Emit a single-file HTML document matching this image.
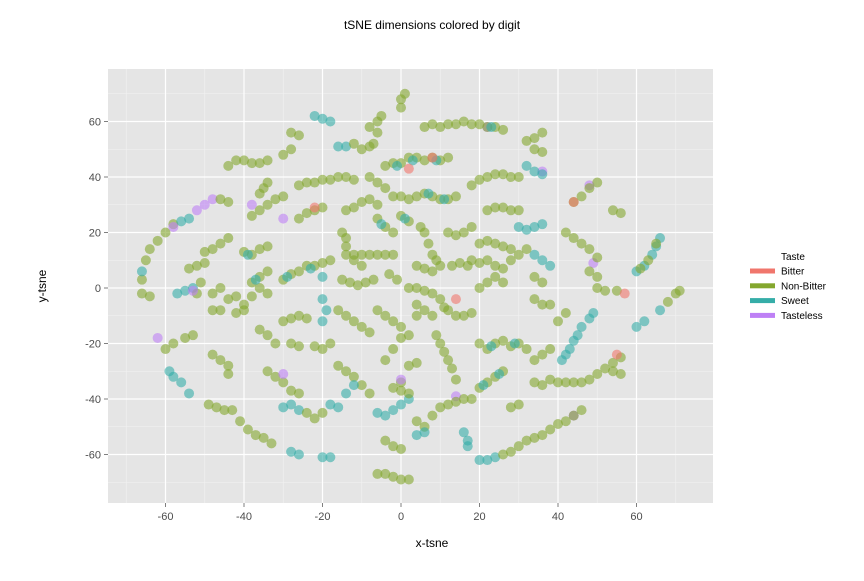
<!DOCTYPE html>
<html><head><meta charset="utf-8"><style>
body{margin:0;background:#fff;font-family:"Liberation Sans","DejaVu Sans",sans-serif;}
svg text{font-family:"Liberation Sans","DejaVu Sans",sans-serif;}
</style></head><body>
<svg id="chart" width="864" height="576">
<text x="432" y="29" text-anchor="middle" font-size="12">tSNE dimensions colored by digit</text>
<rect x="108" y="69" width="605" height="434" fill="#E5E5E5"/>
<g id="grid"></g><g id="axes"></g><g id="points"></g>
<text x="432" y="547" text-anchor="middle" font-size="12">x-tsne</text>
<text x="46" y="286" text-anchor="middle" font-size="12" transform="rotate(-90 46 286)">y-tsne</text>
<g>
<text x="781" y="260" font-size="10">Taste</text>
<g id="legend"></g>
</g>
</svg>
<script>
const classNames = ["Bitter","Non-Bitter","Sweet","Tasteless"];
const classColors = ["#F0766C","#84A72E","#35ADA8","#BE80F5"];
const xTicks = [-60,-40,-20,0,20,40,60];
const yTicks = [-60,-40,-20,0,20,40,60];
const pointGroups = [
["N","-66,3 -65,10 -64,14 -62,17 -60,20 -58,23 -66,-2 -64,-3 -60,-22 -58,-20 -55,-18 -53,-17"],
["S","-66,6 -56,24 -54,25 -59,-30 -58,-32 -56,-34 -54,-38 -57,-2 -55,-1 -53,0"],
["N","-51,2 -54,7 -52,8 -50,9 -52,-2 -48,-2 -46,0 -44,-4 -42,-3 -50,13 -48,14 -46,16 -44,18"],
["T","-52,28 -50,30 -48,32 -58,22 -53,-1 -62,-18"],
["N","-46,32 -44,31 -44,44 -42,46 -40,46 -38,45 -36,45 -34,46 -48,-8 -46,-8 -42,-9 -40,-8"],
["N","-48,-24 -46,-26 -44,-28 -44,-31 -49,-42 -47,-43 -45,-44 -43,-44 -41,-48 -39,-51 -37,-53 -35,-54 -33,-56"],
["S","-28,-59 -26,-60 -20,-61 -18,-61 -30,-43 -28,-42 -26,-44"],
["N","-24,-45 -22,-47 -20,-45 -34,-30 -32,-32 -30,-34 -28,-37 -26,-38 -36,-15 -34,-17 -32,-20"],
["N","-28,-20 -26,-21 -22,-21 -20,-22 -18,-20 -30,-12 -28,-11 -26,-10 -24,-11 -40,-6 -38,-3 -36,0 -34,-2"],
["N","-38,2 -36,4 -34,6 -30,3 -28,5 -26,6 -24,8 -22,8 -20,9 -18,10 -40,13 -38,12 -36,14 -34,15"],
["S","-37,3 -29,4 -23,7 -39,12"],
["N","-38,26 -36,28 -34,30 -32,32 -30,33 -30,48 -28,50 -28,56 -26,55 -36,34 -35,36 -34,38"],
["N","-26,37 -24,38 -22,38 -20,39 -18,39 -16,40 -14,40 -12,39 -26,25 -24,27 -22,28 -20,29"],
["S","-20,4 -20,-4 -19,-8 -20,-12 -22,62 -20,61 -18,60 -16,51 -14,51"],
["N","-12,52 -10,50 -8,51 -14,28 -12,29 -10,31 -8,32 -6,30 -15,20 -14,18 -14,15 -14,12 -12,10 -10,8"],
["N","-12,12 -10,12 -8,12 -6,12 -4,12 -2,12 -15,3 -13,2 -11,1 -9,2 -7,3"],
["N","-16,-8 -14,-10 -12,-12 -10,-14 -8,-16 -16,-28 -14,-30 -12,-32 -10,-35 -8,-38"],
["S","-18,-42 -16,-43 -14,-38 -12,-35 -6,-45 -4,-46 -2,-44 0,-42 2,-40"],
["N","-4,-55 -2,-57 0,-58 -6,-67 -4,-67 -2,-68 0,-69 2,-69"],
["N","-6,-8 -4,-10 -2,-12 0,-14 2,-17 4,-10 -4,-26 -2,-22 0,-18 2,-28 4,-27 0,-34 -2,-36 0,-37 2,-38"],
["T","0,-33 -30,-31 -38,30 -30,25 14,-39 44,-46 36,42 48,37 49,9 22,58"],
["N","-6,25 -4,22 -2,20 0,26 2,24 -4,44 -2,45 0,45 2,47 4,47"],
["S","-5,23 1,25 -1,44 3,46"],
["N","-8,58 -6,60 -5,62 -6,56 -7,52 0,65 0,68 1,70 -8,40 -6,38 -4,36 -2,33 0,33 2,32 4,33"],
["N","-3,5 -1,3 2,0 4,-6 6,-8 8,-10 6,58 8,59 10,58 12,59 14,59 16,60 18,59 20,59"],
["N","22,58 24,58 26,57 6,34 8,33 10,32 12,32 14,33 6,46 8,47 10,46 12,47"],
["S","23,58 7,34 11,32 9,46"],
["N","5,22 6,20 7,16 8,12 9,10 4,8 6,7 8,6 10,8 4,0 6,-1 8,-2 10,-4"],
["N","12,20 14,19 16,20 18,22 13,8 15,9 17,8 18,10 11,-7 12,-8 14,-10 16,-10 18,-9"],
["N","9,-17 10,-20 11,-23 12,-26 13,-29 14,-33 4,-48 6,-50 8,-46 10,-43 12,-42 14,-41 16,-40 18,-40"],
["S","4,-53 6,-52 17,-55 17,-57 16,-52 20,-62 22,-62 24,-61"],
["N","26,-60 28,-59 30,-57 32,-55 34,-54 36,-53 38,-51 40,-49 42,-48 44,-46 46,-44"],
["N","20,-36 22,-34 24,-32 26,-30 20,-20 22,-22 24,-20 26,-19 28,-21 30,-20 32,-22"],
["S","21,-35 25,-31 23,-21 29,-20"],
["N","28,-43 30,-42 34,-34 36,-35 38,-33 40,-34 42,-34 44,-34 46,-34 48,-33 50,-31 52,-29 54,-27 56,-25"],
["S","41,-26 42,-24 43,-22 44,-19 45,-17 46,-14 48,-11 49,-9"],
["N","40,-12 42,-9 38,-6 36,-6 20,0 22,2 24,4 26,2 20,9 22,10 24,8 26,7"],
["N","20,16 22,17 24,16 26,15 28,14 22,28 24,29 26,29 28,28 30,28"],
["N","18,37 20,39 22,40 24,41 26,41 28,40 30,40 32,53 34,54 36,56 34,50 36,49"],
["S","32,44 34,42 36,41 30,22 32,21 34,22 36,23 34,12 36,10 38,8"],
["N","34,-4 36,2 34,4 38,-22 36,-24 34,-26 42,20 44,18 46,16 48,14 50,11"],
["N","44,31 46,33 48,36 50,38 48,6 50,4 50,0 52,-1 55,-1 54,28 56,27"],
["S","60,6 62,8 64,12 65,15 66,18 60,-14 62,-12 66,-8"],
["N","70,-2 71,-1 68,-5 28,10 30,12 32,14 56,-31 54,-30 61,7 63,10 65,16"],
["B","14,-4 57,-2 44,31 2,43 8,47 -22,29 55,-24"]
];
const codeIndex = {B:0,N:1,S:2,T:3};
const X0=401, XS=3.925, Y0=288, YS=2.775;
const sx = v => X0 + v*XS;
const sy = v => Y0 - v*YS;
const NS="http://www.w3.org/2000/svg";
function mk(tag, attrs, parent){const e=document.createElementNS(NS,tag);for(const k in attrs)e.setAttribute(k,attrs[k]);parent.appendChild(e);return e;}
const grid=document.getElementById('grid'), axes=document.getElementById('axes');
for(let i=0;i<xTicks.length+1;i++){
  const v=(xTicks[0]-10)+i*20;
  const x=sx(v);
  if(x>108&&x<713){const l=mk('line',{x1:x,x2:x,y1:69,y2:503,stroke:'#F2F2F2','stroke-width':0.6},grid);
  
  }
}
for(let i=0;i<yTicks.length+1;i++){
  const v=(yTicks[0]-10)+i*20;
  const y=sy(v);
  if(y>69&&y<503){const l=mk('line',{x1:108,x2:713,y1:y,y2:y,stroke:'#F2F2F2','stroke-width':0.6},grid);
  
  }
}
xTicks.forEach(v=>{
  const x=sx(v);
  const l=mk('line',{x1:x,x2:x,y1:69,y2:503,stroke:'#fff','stroke-width':1.2},grid);
  
  
  const t=mk('line',{x1:x,x2:x,y1:503,y2:507,stroke:'#7f7f7f'},axes);
  
  
  const tx=mk('text',{x:x,y:520,'text-anchor':'middle','font-size':11,fill:'#4d4d4d'},axes);
  tx.textContent=v;
  
  
});
yTicks.forEach(v=>{
  const y=sy(v);
  const l=mk('line',{x1:108,x2:713,y1:y,y2:y,stroke:'#fff','stroke-width':1.2},grid);
  
  
  const t=mk('line',{x1:104,x2:108,y1:y,y2:y,stroke:'#7f7f7f'},axes);
  
  
  const tx=mk('text',{x:101,y:y+4,'text-anchor':'end','font-size':11,fill:'#4d4d4d'},axes);
  tx.textContent=v;
  
  
});
const pts=document.getElementById('points');
pointGroups.forEach(g=>{
  const c=codeIndex[g[0]];
  g[1].trim().split(/\s+/).forEach(p=>{
    const [a,b]=p.split(',').map(Number);
    const e=mk('circle',{cx:sx(a),cy:sy(b),r:5,fill:classColors[c],'fill-opacity':0.6},pts);
    
    
  });
});
const lg=document.getElementById('legend');
classNames.forEach((n,i)=>{
  const y=271+i*14.8;
  const r=mk('rect',{x:750,y:y-2.5,width:25,height:5,fill:classColors[i]},lg);
  
  
  const t=mk('text',{x:781,y:y+3.5,'font-size':10},lg);
  t.textContent=n;
  
  
});
</script>
</body></html>
